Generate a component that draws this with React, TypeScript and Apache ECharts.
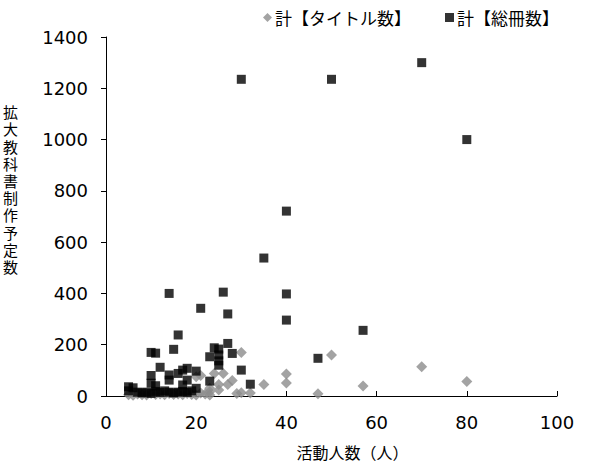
import React, { useEffect, useRef } from "react";
import * as echarts from "echarts";

const seriesNames = ["計【タイトル数】", "計【総冊数】"];

// 計【タイトル数】 (活動人数, 冊数)
const titleData: [number, number][] = [
  [5, 5], [6, 3], [7, 8], [8, 5], [9, 4], [10, 10], [11, 6], [12, 8], [13, 5], [14, 10],
  [15, 6], [16, 8], [17, 5], [18, 10], [19, 6], [20, 4], [21, 12], [22, 8],
  [20, 75], [21, 80], [23, 30], [23, 17], [23, 4], [24, 88], [25, 45], [25, 23], [26, 88],
  [27, 45], [28, 60], [29, 10], [30, 170], [30, 13], [32, 12], [35, 45], [40, 86], [40, 51],
  [47, 9], [50, 160], [57, 39], [70, 114], [80, 57],
];

// 計【総冊数】 (活動人数, 冊数)
const volumeData: [number, number][] = [
  [5, 36], [6, 32], [5, 20], [7, 15], [8, 12], [9, 15], [10, 10], [11, 18], [12, 14], [13, 20],
  [14, 15], [15, 12], [16, 15], [17, 18], [18, 14], [19, 20],
  [10, 80], [10, 50], [11, 40], [12, 112], [14, 82], [14, 62], [15, 182], [16, 88], [16, 238],
  [14, 400], [17, 101], [17, 43], [18, 62], [18, 108], [10, 170], [11, 167],
  [20, 97], [20, 30], [21, 342], [23, 153], [23, 58], [24, 188], [25, 183], [25, 160],
  [25, 137], [25, 120], [26, 405], [27, 320], [27, 205], [28, 166], [30, 101], [32, 46],
  [30, 1235], [35, 538], [40, 721], [40, 398], [40, 296], [47, 147], [50, 1235], [57, 256],
  [70, 1300], [80, 1000],
];

const xTicks = { min: 0, max: 100, interval: 20 };
const yTicks = { min: 0, max: 1400, interval: 200 };
const xName = "活動人数（人）";
const yName = "拡大教科書制作予定数";

const FONT = "'Noto Sans CJK JP', 'Noto Sans', sans-serif";
const NUM_FONT = "'DejaVu Sans', sans-serif";
const TIGHT_FONT = "'Liberation Sans', 'Noto Sans CJK JP', sans-serif";

export default function App() {
  const ref = useRef<HTMLDivElement>(null);
  useEffect(() => {
    if (!ref.current) return;
    const chart = echarts.init(ref.current, undefined, { renderer: "svg" });
    chart.setOption({
      animation: false,
      textStyle: { fontFamily: FONT },
      grid: {
        left: 106,
        right: 34,
        top: 37,
        bottom: 67,
        containLabel: false,
        outerBoundsMode: "none",
      },
      legend: {
        data: [
          { name: seriesNames[0], icon: "diamond" },
          { name: seriesNames[1], icon: "rect" },
        ],
        left: 258,
        top: 4,
        itemWidth: 9,
        itemHeight: 9,
        itemGap: 34,
        textStyle: { fontSize: 17, color: "#000", fontFamily: FONT, padding: [0, 0, 0, -2] },
      },
      graphic: [
        {
          type: "text",
          left: 3,
          top: 104,
          style: {
            text: yName.split("").join("\n"),
            font: "15px " + TIGHT_FONT,
            lineHeight: 17.2,
            fill: "#000",
            align: "left",
          },
        },
      ],
      xAxis: {
        type: "value",
        ...xTicks,
        name: xName,
        nameLocation: "middle",
        nameGap: 48,
        nameTextStyle: {
          fontSize: 16,
          lineHeight: 18,
          color: "#000",
          fontFamily: TIGHT_FONT,
          padding: [0, 0, 0, 42],
        },
        axisLine: { show: true, onZero: false, lineStyle: { color: "#000", width: 1 } },
        axisTick: { show: true, inside: true, length: 5, lineStyle: { color: "#000" } },
        axisLabel: { fontSize: 18, color: "#000", margin: 17, fontFamily: NUM_FONT },
        splitLine: { show: false },
      },
      yAxis: {
        type: "value",
        ...yTicks,
        axisLine: { show: true, lineStyle: { color: "#000", width: 1 } },
        axisTick: { show: true, inside: false, length: 5, lineStyle: { color: "#000" } },
        axisLabel: {
          fontSize: 18,
          color: "#000",
          margin: 18,
          fontFamily: NUM_FONT,
          formatter: (v: number) => String(v),
        },
        splitLine: { show: false },
      },
      series: [
        {
          name: seriesNames[0],
          type: "scatter",
          symbol: "diamond",
          symbolSize: 11,
          itemStyle: { color: "#8c8c8c" },
          data: titleData,
        },
        {
          name: seriesNames[1],
          type: "scatter",
          symbol: "rect",
          symbolSize: 9,
          itemStyle: { color: "#000" },
          data: volumeData,
        },
      ],
    });
    return () => chart.dispose();
  }, []);
  return (
    <div
      ref={ref}
      style={{ position: "fixed", left: 0, top: 0, width: 591, height: 463, background: "#fff" }}
    />
  );
}
